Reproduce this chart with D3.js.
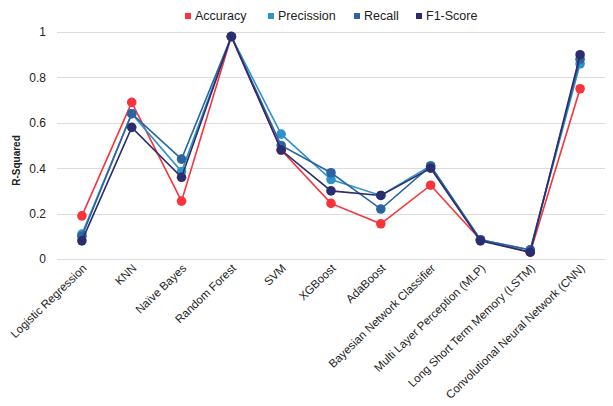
<!DOCTYPE html>
<meta charset="utf-8">
<script src="https://d3js.org/d3.v7.min.js"></script>
<style>
body { margin: 0; background: #fff; }
svg text { font-family: "Liberation Sans", Arial, sans-serif; fill: #222; }
.grid line { stroke: #dcdcdc; stroke-width: 1; shape-rendering: crispEdges; }
.grid path { display: none; }
.yaxis path, .yaxis line, .xaxis path, .xaxis line { display: none; }
</style>
<body>
<div id="chart"></div>
<script>
// ---------- data ----------
const models = ["Logistic Regression", "KNN", "Naïve Bayes", "Random Forest", "SVM", "XGBoost",
  "AdaBoost", "Bayesian Network Classifier", "Multi Layer Perception (MLP)",
  "Long Short Term Memory (LSTM)", "Convolutional Neural Network (CNN)"];
const seriesNames = ["Accuracy", "Precission", "Recall", "F1-Score"];
const accuracy  = [0.19, 0.69, 0.255, 0.98, 0.48, 0.245, 0.155, 0.325, 0.085, 0.03, 0.75];
const precision = [0.11, 0.64, 0.385, 0.98, 0.55, 0.35, 0.28, 0.41, 0.085, 0.04, 0.86];
const recall    = [0.10, 0.64, 0.44, 0.98, 0.50, 0.38, 0.22, 0.41, 0.085, 0.04, 0.88];
const f1score   = [0.08, 0.58, 0.36, 0.98, 0.48, 0.30, 0.28, 0.40, 0.08, 0.03, 0.90];
const yTicks = [0, 0.2, 0.4, 0.6, 0.8, 1];
const colors = ["#f8333a", "#2f93c9", "#2c64a2", "#2b2d6d"];

const series = [accuracy, precision, recall, f1score].map((vals, i) => ({
  name: seriesNames[i], color: colors[i],
  values: vals.map((v, j) => ({ model: models[j], value: v }))
}));

// ---------- svg ----------
const width = 613, height = 406;
const mLeft = 57, mRight = 605, mTop = 32, mBottom = 259;

const svg = d3.select("#chart").append("svg")
  .attr("width", width).attr("height", height);

const x = d3.scalePoint().domain(models).range([mLeft, mRight]).padding(0.5);
const y = d3.scaleLinear().domain([0, 1]).range([mBottom, mTop]);

// grid
svg.append("g").attr("class", "grid")
  .attr("transform", "translate(" + mLeft + ",0)")
  .call(d3.axisLeft(y).tickValues(yTicks).tickSize(-(mRight - mLeft)).tickFormat(""));

// y axis labels
svg.append("g").attr("class", "yaxis")
  .attr("transform", "translate(" + (mLeft - 8) + ",0)")
  .call(d3.axisLeft(y).tickValues(yTicks).tickSize(0).tickFormat(d => d === 1 ? "1" : d === 0 ? "0" : d3.format(".1f")(d)))
  .selectAll("text").style("font-size", "12px").attr("dx", 0);

svg.append("text")
  .attr("transform", "translate(20," + ((mTop + mBottom) / 2 + 15) + ") rotate(-90)")
  .attr("text-anchor", "middle")
  .style("font-size", "10px").style("font-weight", "bold")
  .text("R-Squared");

// x axis labels
svg.append("g").attr("class", "xaxis")
  .attr("transform", "translate(0," + mBottom + ")")
  .call(d3.axisBottom(x).tickSize(0))
  .selectAll("text")
  .style("font-size", "11.5px")
  .attr("text-anchor", "end")
  .attr("dy", 0).attr("y", 0)
  .attr("transform", "translate(5,10) rotate(-44)");

// lines
const line = d3.line().x(d => x(d.model)).y(d => y(d.value));
const g = svg.selectAll(".serie").data(series).enter().append("g").attr("class", "serie");
g.append("path")
  .attr("fill", "none")
  .attr("stroke", d => d.color)
  .attr("stroke-width", 1.6)
  .attr("d", d => line(d.values));
g.selectAll("circle").data(d => d.values.map(v => ({ ...v, color: d.color })))
  .enter().append("circle")
  .attr("cx", d => x(d.model)).attr("cy", d => y(d.value))
  .attr("r", 4.8).attr("fill", d => d.color);

// legend
const legendX = [185, 268, 354, 416];
const leg = svg.selectAll(".leg").data(series).enter().append("g")
  .attr("transform", (d, i) => "translate(" + legendX[i] + ",16)");
leg.append("rect").attr("x", 0).attr("y", -3).attr("width", 6).attr("height", 6).attr("fill", d => d.color);
leg.append("text").attr("x", 10).attr("y", 0).attr("dy", "0.35em")
  .style("font-size", "12.5px").text(d => d.name);
</script>
</body>
